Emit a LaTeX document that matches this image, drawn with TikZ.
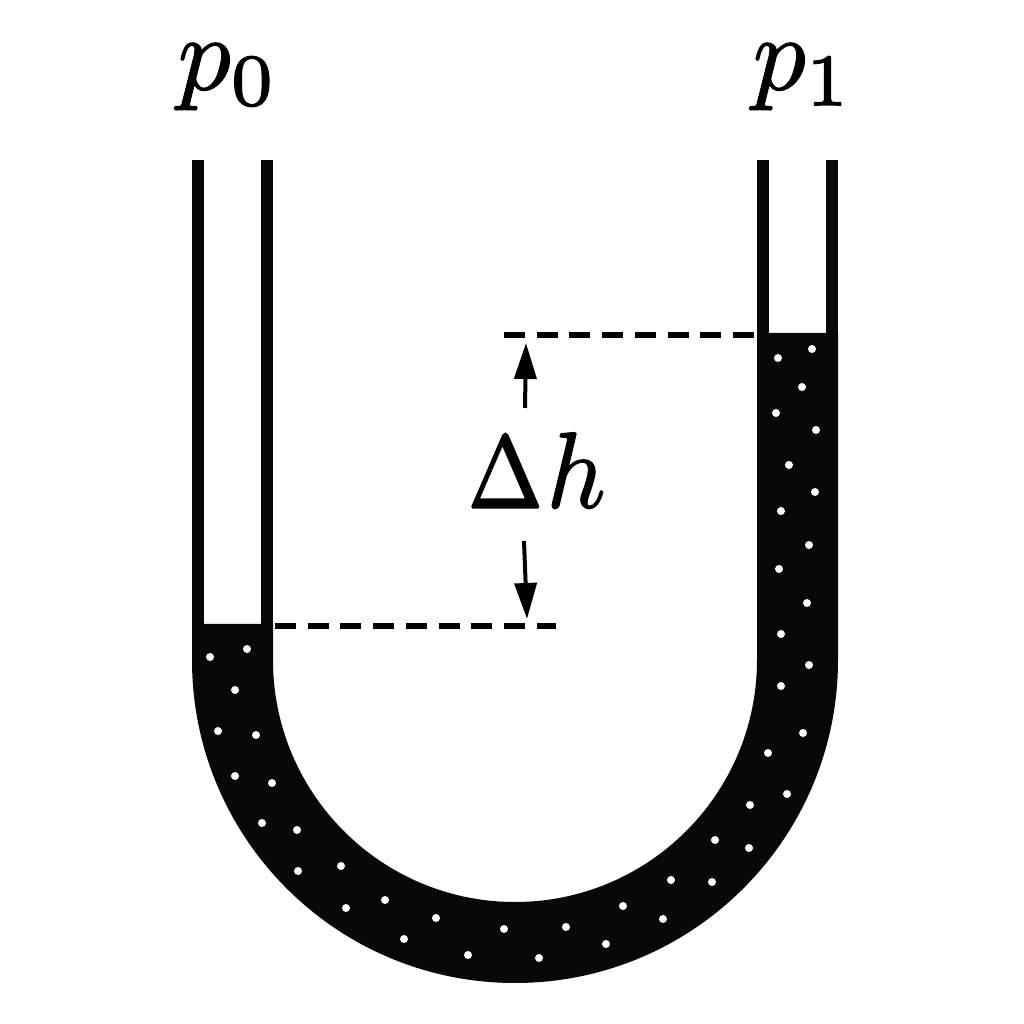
\documentclass[tikz,border=0pt]{standalone}
\usetikzlibrary{arrows.meta}
\definecolor{liquid}{RGB}{8,8,9}
\newcommand{\heavy}[2]{\special{pdf:code q 2 Tr #1 w}#2\special{pdf:code Q}}
\tikzset{
	label/.style={scale=3, inner sep=0pt},
	level/.style={line width=0.6mm, dash pattern=on 2.1mm off 1.17mm},
	gauge/.style={line width=0.4mm, -{Triangle[length=3.6mm,width=2.2mm]}}
}
\begin{document}
\begin{tikzpicture}
	\useasboundingbox (0, 0) rectangle (10.24, 10.24);

	% tube walls
	\fill[liquid] (1.92, 8.64) rectangle (2.04, 4);
	\fill[liquid] (2.61, 8.64) rectangle (2.73, 4);
	\fill[liquid] (7.57, 8.64) rectangle (7.69, 6.91);
	\fill[liquid] (8.26, 8.64) rectangle (8.38, 6.91);

	% liquid
	\fill[liquid] (1.92, 3.64) arc (180:360:3.23) -- (8.38, 6.91) -- (7.57, 6.91)
		-- (7.57, 3.64) arc (360:180:2.42) -- (2.73, 4) -- (1.92, 4) -- cycle;

	\foreach \dotx/\doty in {2.10/3.67, 2.47/3.75, 2.35/3.34, 2.18/2.93, 2.56/2.89, 2.35/2.48,
		2.72/2.41, 2.62/2.01, 2.97/1.94, 2.98/1.53, 3.41/1.58, 3.46/1.16, 3.85/1.24, 4.04/0.85,
		4.36/1.06, 4.68/0.69, 5.04/0.95, 5.39/0.66, 5.66/0.97, 6.06/0.80, 6.23/1.18, 6.63/1.05,
		6.71/1.44, 7.12/1.42, 7.15/1.84, 7.49/1.76, 7.50/2.19, 7.87/2.30, 7.68/2.71, 8.03/2.91,
		7.81/3.38, 8.09/3.59, 7.81/3.90, 8.07/4.21, 7.79/4.55, 8.09/4.79, 7.81/5.13, 8.15/5.32,
		7.89/5.59, 8.16/5.94, 7.76/6.11, 8.02/6.37, 7.78/6.66, 8.12/6.75}
		\fill[white] (\dotx, \doty) circle (0.04);

	% labels
	\node[label] (pzero) at (2.28, 9.47) {\heavy{0.12}{$p_0$}};
	\node[label] (pone) at (8.03, 9.47) {\heavy{0.12}{$p_1$}};
	\node[label, scale=0.93] (dh) at (5.37, 5.54) {\heavy{0.22}{\scalebox{0.91}[1.05]{$\Delta$}}\kern0.4pt\heavy{0.12}{\scalebox{1.05}[1.1]{$h$}}};

	% levels
	\coordinate (highleft) at (5.04, 6.89);
	\coordinate (highright) at (7.54, 6.89);
	\coordinate (lowleft) at (2.75, 3.98);
	\coordinate (lowright) at (5.56, 3.98);
	\draw[level] (highleft) -- (highright);
	\draw[level] (lowleft) -- (lowright);

	% arrows
	\coordinate (uptail) at (5.25, 6.16);
	\coordinate (uptip) at (5.26, 6.81);
	\coordinate (downtail) at (5.24, 4.83);
	\coordinate (downtip) at (5.27, 4.05);
	\draw[gauge] (uptail) -- (uptip);
	\draw[gauge] (downtail) -- (downtip);
\end{tikzpicture}
\end{document}
